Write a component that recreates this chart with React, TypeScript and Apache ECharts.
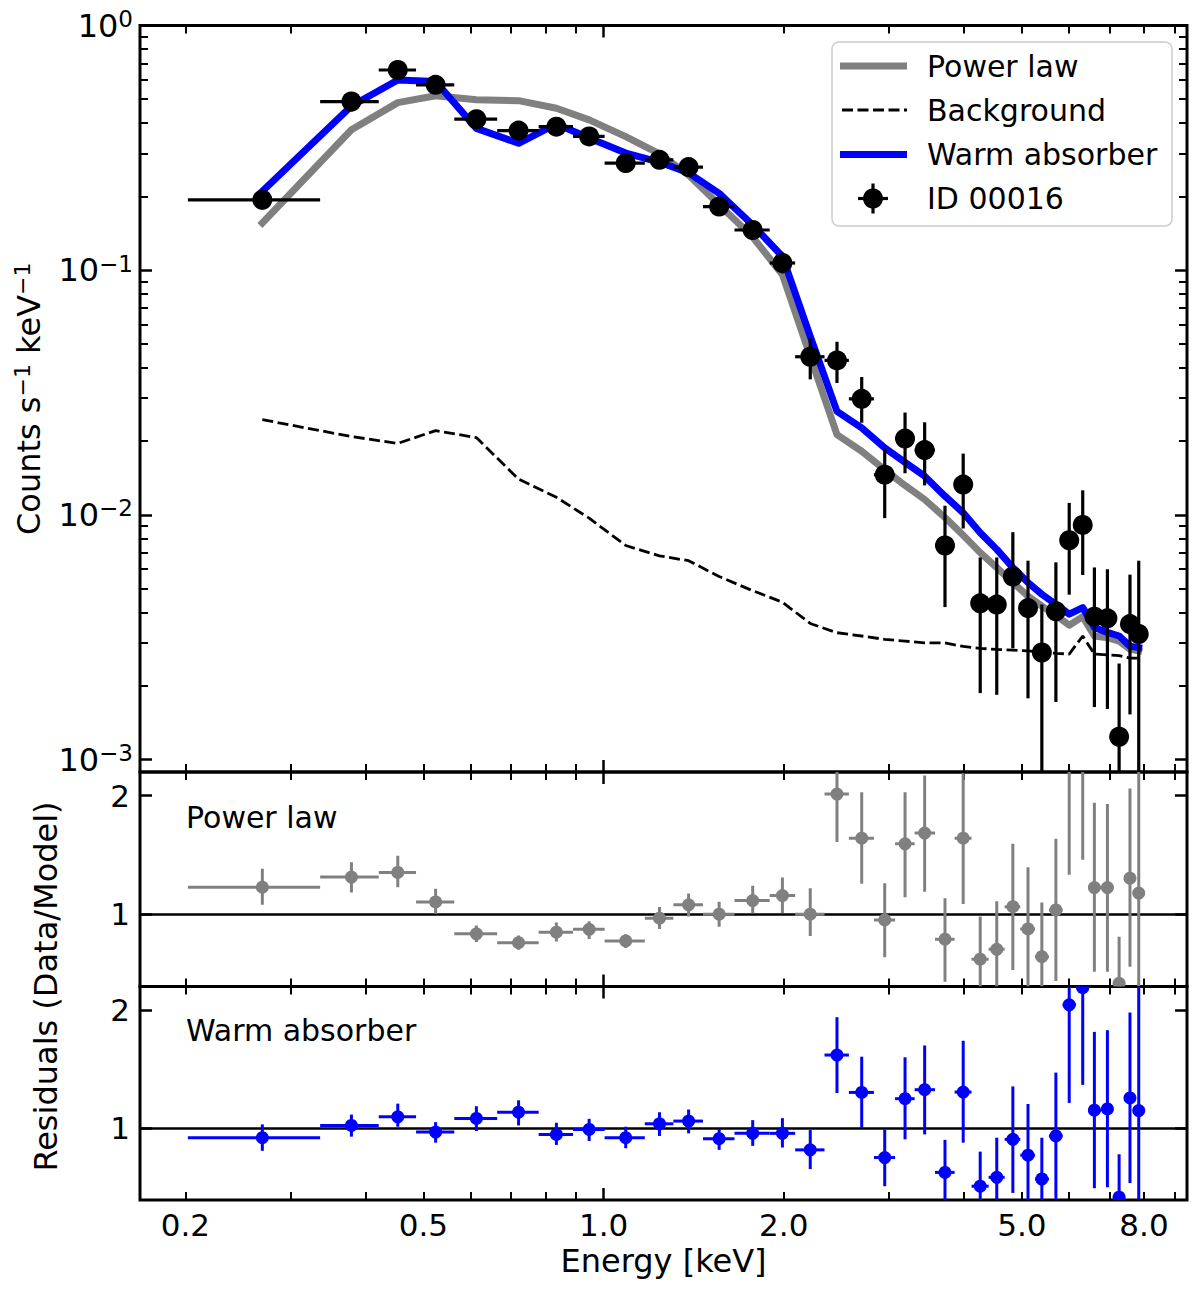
import { useEffect, useRef } from 'react';
import * as echarts from 'echarts';

// bin centres and edges [keV]
const energy = [0.269, 0.379, 0.453, 0.524, 0.613, 0.721, 0.834, 0.946, 1.089, 1.24, 1.387, 1.56, 1.775, 1.99, 2.215, 2.455, 2.7, 2.95, 3.19, 3.44, 3.72, 3.99, 4.26, 4.54, 4.83, 5.12, 5.4, 5.7, 6.0, 6.32, 6.61, 6.95, 7.27, 7.58, 7.84];
const binLo = [0.202, 0.336, 0.421, 0.486, 0.563, 0.664, 0.779, 0.889, 1.004, 1.172, 1.308, 1.466, 1.655, 1.895, 2.09, 2.34, 2.57, 2.83, 3.07, 3.31, 3.58, 3.86, 4.12, 4.4, 4.68, 4.97, 5.26, 5.55, 5.85, 6.16, 6.47, 6.78, 7.11, 7.43, 7.71];
const binHi = [0.336, 0.421, 0.486, 0.563, 0.664, 0.779, 0.889, 1.004, 1.172, 1.308, 1.466, 1.655, 1.895, 2.09, 2.34, 2.57, 2.83, 3.07, 3.31, 3.58, 3.86, 4.12, 4.4, 4.68, 4.97, 5.26, 5.55, 5.85, 6.16, 6.47, 6.78, 7.11, 7.43, 7.71, 7.97];

// ID 00016 spectrum [counts s^-1 keV^-1]
const counts = [0.194, 0.489, 0.658, 0.572, 0.414, 0.372, 0.386, 0.352, 0.274, 0.2825, 0.264, 0.182, 0.146, 0.107, 0.0443, 0.0428, 0.0298, 0.0146, 0.0205, 0.0184, 0.0075, 0.0133, 0.00435, 0.0043, 0.0056, 0.00416, 0.00274, 0.00404, 0.00788, 0.0091, 0.00384, 0.00378, 0.00124, 0.00358, 0.00326];
const countsLo = [0.177, 0.445, 0.603, 0.53, 0.381, 0.345, 0.356, 0.325, 0.251, 0.26, 0.243, 0.167, 0.134, 0.097, 0.0358, 0.0346, 0.0238, 0.0097, 0.0148, 0.0132, 0.0042, 0.0088, 0.00187, 0.00184, 0.00285, 0.00178, 0.0005, 0.00172, 0.00472, 0.00568, 0.00164, 0.00161, 0.0005, 0.00153, 0.0005];
const countsHi = [0.211, 0.535, 0.718, 0.615, 0.448, 0.401, 0.417, 0.38, 0.298, 0.305, 0.286, 0.197, 0.159, 0.118, 0.0528, 0.051, 0.0366, 0.0187, 0.0262, 0.0239, 0.0109, 0.0178, 0.0067, 0.0067, 0.0085, 0.0065, 0.0043, 0.0064, 0.0112, 0.0126, 0.0061, 0.006, 0.00247, 0.0057, 0.0065];

// models
const powerLaw = [0.156, 0.375, 0.484, 0.516, 0.497, 0.493, 0.459, 0.4115, 0.3516, 0.299, 0.245, 0.185, 0.1366, 0.096, 0.0445, 0.0213, 0.0182, 0.0153, 0.0132, 0.01156, 0.00975, 0.00825, 0.00701, 0.00609, 0.00529, 0.00466, 0.00424, 0.00389, 0.00354, 0.00384, 0.0032, 0.00315, 0.00305, 0.00283, 0.00278];
const background = [0.0245, 0.0209, 0.0196, 0.0221, 0.0207, 0.014, 0.0118, 0.0097, 0.0075, 0.0068, 0.0065, 0.0056, 0.0049, 0.0044, 0.0036, 0.0033, 0.0032, 0.0031, 0.00305, 0.003, 0.003, 0.0029, 0.00285, 0.00282, 0.0028, 0.00278, 0.00275, 0.00272, 0.0027, 0.0032, 0.0027, 0.00268, 0.00266, 0.0026, 0.0026];
const warmAbs = [0.21, 0.469, 0.599, 0.59, 0.38, 0.33, 0.396, 0.347, 0.301, 0.2765, 0.25, 0.206, 0.153, 0.1138, 0.0537, 0.0265, 0.0227, 0.0188, 0.0164, 0.0144, 0.01193, 0.0102, 0.00846, 0.00723, 0.00609, 0.00529, 0.00474, 0.00431, 0.00393, 0.00418, 0.00347, 0.00331, 0.0032, 0.00291, 0.00287];

// residuals (data / model)
const resPL = [1.228, 1.313, 1.352, 1.104, 0.835, 0.76, 0.848, 0.873, 0.774, 0.966, 1.079, 1.0, 1.115, 1.157, 1.0, 2.014, 1.642, 0.952, 1.594, 1.685, 0.789, 1.642, 0.62, 0.704, 1.064, 0.876, 0.642, 1.036, 2.23, 2.37, 1.225, 1.225, 0.417, 1.304, 1.178];
const resPLLo = [1.079, 1.183, 1.228, 1.003, 0.765, 0.7, 0.77, 0.79, 0.715, 0.875, 0.98, 0.895, 1.008, 1.01, 0.817, 1.61, 1.256, 0.636, 1.144, 1.19, 0.43, 1.087, 0.26, 0.3, 0.53, 0.35, 0.19, 0.436, 1.332, 1.459, 0.515, 0.515, 0.02, 0.557, 0.0];
const resPLHi = [1.383, 1.439, 1.493, 1.214, 0.905, 0.82, 0.93, 0.94, 0.83, 1.06, 1.175, 1.105, 1.24, 1.31, 1.22, 2.4, 2.03, 1.262, 2.03, 2.17, 1.135, 2.19, 0.98, 1.11, 1.594, 1.397, 1.098, 1.636, 3.1, 3.3, 1.94, 1.93, 0.81, 2.06, 2.6];
const resWA = [0.918, 1.022, 1.095, 0.966, 1.081, 1.134, 0.946, 0.988, 0.918, 1.036, 1.059, 0.91, 0.955, 0.955, 0.815, 1.619, 1.302, 0.75, 1.249, 1.325, 0.624, 1.305, 0.507, 0.582, 0.904, 0.77, 0.568, 0.933, 2.045, 2.19, 1.151, 1.162, 0.414, 1.255, 1.148];
const resWALo = [0.807, 0.927, 1.011, 0.876, 0.975, 1.022, 0.857, 0.89, 0.829, 0.933, 0.955, 0.815, 0.849, 0.835, 0.652, 1.297, 1.0, 0.507, 0.904, 0.946, 0.35, 0.876, 0.21, 0.25, 0.45, 0.34, 0.22, 0.4, 1.213, 1.366, 0.49, 0.498, 0.05, 0.534, 0.0];
const resWAHi = [1.031, 1.114, 1.207, 1.05, 1.185, 1.235, 1.045, 1.078, 1.011, 1.134, 1.157, 0.994, 1.067, 1.084, 0.983, 1.94, 1.605, 0.988, 1.6, 1.7, 0.9, 1.74, 0.8, 0.918, 1.353, 1.204, 0.918, 1.47, 2.9, 3.0, 1.815, 1.83, 0.778, 1.98, 2.6];

// axes
const xMinorTicks = [0.2, 0.3, 0.4, 0.5, 0.6, 0.7, 0.8, 0.9, 2, 3, 4, 5, 6, 7, 8, 9];
const xMajorTicks = [1];
const xTickLabels = [0.2, 0.5, 1, 2, 5, 8];
const yTopMajor = [0.001, 0.01, 0.1, 1];
const yTopMinor = [0.002, 0.003, 0.004, 0.005, 0.006, 0.007, 0.008, 0.009, 0.02, 0.03, 0.04, 0.05, 0.06, 0.07, 0.08, 0.09, 0.2, 0.3, 0.4, 0.5, 0.6, 0.7, 0.8, 0.9];
const resTicks = [1, 2];

const X_MIN = 0.168;
const X_MAX = 9.44;
const Y_MIN = 0.00089;
const Y_MAX = 1;
const R_MIN = 0.39;
const R_MAX = 2.2;

const FONT = 'DejaVu Sans';
const GRAY = '#808080';
const BLUE = '#0000ff';
const BG_DASH = [11, 4.5];

const LEFT = 140;
const WIDTH = 1047;
const PANELS = [
  { top: 25.5, height: 746.5 },
  { top: 772, height: 214.5 },
  { top: 986.5, height: 213.5 },
];

function xAxisFor(gridIndex: number, position: string, ticks: number[], length: number, labels?: number[]) {
  return {
    type: 'log', logBase: 10, gridIndex, position, min: X_MIN, max: X_MAX,
    axisLine: { show: false, onZero: false },
    splitLine: { show: false },
    axisTick: { show: true, inside: true, length, customValues: ticks, lineStyle: { color: '#000', width: length > 10 ? 2.5 : 2 } },
    axisLabel: labels
      ? { show: true, customValues: labels, formatter: (v: number) => v.toFixed(1), fontSize: 31, fontFamily: FONT, color: '#000', margin: 9 }
      : { show: false },
  };
}

function supText(v: number) {
  const e = Math.round(Math.log10(v));
  return `{b|10}{s|${e < 0 ? '\u2212' + -e : e}}`;
}

function yLogFor(position: string, ticks: number[], length: number, labels?: number[]) {
  return {
    type: 'log', logBase: 10, gridIndex: 0, position, min: Y_MIN, max: Y_MAX,
    axisLine: { show: false, onZero: false },
    splitLine: { show: false },
    axisTick: { show: true, inside: true, length, customValues: ticks, lineStyle: { color: '#000', width: length > 10 ? 2.5 : 2 } },
    axisLabel: labels
      ? {
          show: true, customValues: labels, formatter: supText, margin: 7,
          rich: {
            b: { fontSize: 32, fontFamily: FONT, color: '#000', lineHeight: 36 },
            s: { fontSize: 23, fontFamily: FONT, color: '#000', lineHeight: 14, verticalAlign: 'top' },
          },
        }
      : { show: false },
  };
}

function yResFor(gridIndex: number, position: string, labels: boolean) {
  return {
    type: 'value', gridIndex, position, min: R_MIN, max: R_MAX,
    axisLine: { show: false, onZero: false },
    splitLine: { show: false },
    axisTick: { show: true, inside: true, length: 12, customValues: resTicks, lineStyle: { color: '#000', width: 2.5 } },
    axisLabel: labels
      ? { show: true, customValues: resTicks, formatter: (v: number) => String(v), fontSize: 31, fontFamily: FONT, color: '#000', margin: 10 }
      : { show: false },
  };
}

// error bars + round marker, through the axes of the series
function errorBars(color: string, lw: number, radius: number, yMin: number, yMax: number) {
  return (_params: any, api: any) => {
    const clamp = (v: number) => Math.min(Math.max(v, yMin), yMax);
    const x = api.value(0);
    const y = api.value(1);
    const c = api.coord([x, clamp(y)]);
    const l = api.coord([api.value(2), clamp(y)]);
    const r = api.coord([api.value(3), clamp(y)]);
    const lo = api.coord([x, clamp(api.value(4))]);
    const hi = api.coord([x, clamp(api.value(5))]);
    const children: any[] = [
      { type: 'line', shape: { x1: lo[0], y1: lo[1], x2: hi[0], y2: hi[1] }, style: { stroke: color, lineWidth: lw } },
    ];
    if (y >= yMin && y <= yMax) {
      children.push({ type: 'line', shape: { x1: l[0], y1: c[1], x2: r[0], y2: c[1] }, style: { stroke: color, lineWidth: lw } });
      children.push({ type: 'circle', shape: { cx: c[0], cy: c[1], r: radius }, style: { fill: color } });
    }
    return { type: 'group', children };
  };
}

const legendRows = [
  { label: 'Power law', y: 66 },
  { label: 'Background', y: 110 },
  { label: 'Warm absorber', y: 154.5 },
  { label: 'ID 00016', y: 198.5 },
];

export default function App() {
  const chartRef = useRef<HTMLDivElement>(null);

  useEffect(() => {
    if (!chartRef.current) return;
    const chart = echarts.init(chartRef.current, null, { renderer: 'svg' });

    const xAxes: any[] = [];
    PANELS.forEach((_, g) => {
      xAxes.push(xAxisFor(g, 'bottom', xMinorTicks, 8, g === 2 ? xTickLabels : undefined));
      xAxes.push(xAxisFor(g, 'bottom', xMajorTicks, 12));
      xAxes.push(xAxisFor(g, 'top', xMinorTicks, 8));
      xAxes.push(xAxisFor(g, 'top', xMajorTicks, 12));
    });

    const textStyle = { fontSize: 30, fontFamily: FONT, fill: '#000' };

    chart.setOption({
      animation: false,
      grid: PANELS.map((p) => ({
        left: LEFT, width: WIDTH, top: p.top, height: p.height,
        show: true, borderColor: '#000', borderWidth: 3, backgroundColor: 'transparent',
      })),
      xAxis: xAxes,
      yAxis: [
        yLogFor('left', yTopMajor, 12, yTopMajor),
        yLogFor('left', yTopMinor, 8),
        yLogFor('right', yTopMajor, 12),
        yLogFor('right', yTopMinor, 8),
        yResFor(1, 'left', true),
        yResFor(1, 'right', false),
        yResFor(2, 'left', true),
        yResFor(2, 'right', false),
      ],
      series: [
        {
          name: 'Power law', type: 'line', xAxisIndex: 0, yAxisIndex: 0, showSymbol: false, silent: true, z: 2,
          data: energy.map((e, i) => [e, powerLaw[i]]),
          lineStyle: { color: GRAY, width: 7, cap: 'square', join: 'round' },
        },
        {
          name: 'Background', type: 'line', xAxisIndex: 0, yAxisIndex: 0, showSymbol: false, silent: true, z: 3,
          data: energy.map((e, i) => [e, background[i]]),
          lineStyle: { color: '#000', width: 2.8, type: BG_DASH },
        },
        {
          name: 'Warm absorber', type: 'line', xAxisIndex: 0, yAxisIndex: 0, showSymbol: false, silent: true, z: 4,
          data: energy.map((e, i) => [e, warmAbs[i]]),
          lineStyle: { color: BLUE, width: 7, cap: 'square', join: 'round' },
        },
        {
          name: 'ID 00016', type: 'custom', xAxisIndex: 0, yAxisIndex: 0, clip: true, silent: true, z: 5,
          renderItem: errorBars('#000', 3.2, 10, Y_MIN, Y_MAX),
          encode: { x: 0, y: 1 },
          data: energy.map((e, i) => [e, counts[i], binLo[i], binHi[i], countsLo[i], countsHi[i]]),
        },
        {
          name: 'Power law residuals', type: 'custom', xAxisIndex: 4, yAxisIndex: 4, clip: true, silent: true, z: 5,
          renderItem: errorBars(GRAY, 3, 6.5, R_MIN, R_MAX),
          encode: { x: 0, y: 1 },
          data: energy.map((e, i) => [e, resPL[i], binLo[i], binHi[i], resPLLo[i], resPLHi[i]]),
        },
        {
          name: 'Warm absorber residuals', type: 'custom', xAxisIndex: 8, yAxisIndex: 6, clip: true, silent: true, z: 5,
          renderItem: errorBars(BLUE, 3, 6.5, R_MIN, R_MAX),
          encode: { x: 0, y: 1 },
          data: energy.map((e, i) => [e, resWA[i], binLo[i], binHi[i], resWALo[i], resWAHi[i]]),
        },
        {
          type: 'line', xAxisIndex: 4, yAxisIndex: 4, data: [], silent: true, z: 3,
          markLine: { symbol: 'none', silent: true, label: { show: false }, lineStyle: { color: '#000', width: 2.5, type: 'solid' }, data: [{ yAxis: 1 }] },
        },
        {
          type: 'line', xAxisIndex: 8, yAxisIndex: 6, data: [], silent: true, z: 3,
          markLine: { symbol: 'none', silent: true, label: { show: false }, lineStyle: { color: '#000', width: 2.5, type: 'solid' }, data: [{ yAxis: 1 }] },
        },
      ],
      graphic: [
        // axis titles
        {
          type: 'text', x: 29, y: 398.75, rotation: Math.PI / 2, silent: true,
          style: {
            text: '{m|Counts s}{s|\u22121}{m| keV}{s|\u22121}',
            align: 'center', verticalAlign: 'middle', textAlign: 'center', textVerticalAlign: 'middle',
            rich: {
              m: { fontSize: 32, fontFamily: FONT, fill: '#000', lineHeight: 36 },
              s: { fontSize: 22, fontFamily: FONT, fill: '#000', lineHeight: 14, verticalAlign: 'top' },
            },
          },
        },
        {
          type: 'text', x: 46, y: 986.5, rotation: Math.PI / 2, silent: true,
          style: { text: 'Residuals (Data/Model)', fontSize: 32, fontFamily: FONT, fill: '#000', align: 'center', verticalAlign: 'middle', textAlign: 'center', textVerticalAlign: 'middle' },
        },
        {
          type: 'text', x: 663.5, y: 1261, silent: true,
          style: { text: 'Energy [keV]', fontSize: 32, fontFamily: FONT, fill: '#000', align: 'center', verticalAlign: 'middle', textAlign: 'center', textVerticalAlign: 'middle' },
        },
        // panel labels
        { type: 'text', x: 186, y: 817, silent: true, style: { ...textStyle, text: 'Power law', verticalAlign: 'middle', textVerticalAlign: 'middle' } },
        { type: 'text', x: 186, y: 1030, silent: true, style: { ...textStyle, text: 'Warm absorber', verticalAlign: 'middle', textVerticalAlign: 'middle' } },
        // legend
        {
          type: 'group', z: 100, silent: true,
          children: [
            { type: 'rect', shape: { x: 832, y: 42, width: 340, height: 184, r: 7 }, style: { fill: 'rgba(255,255,255,0.8)', stroke: '#cccccc', lineWidth: 1.5 } },
            { type: 'line', shape: { x1: 840, y1: 66, x2: 907, y2: 66 }, style: { stroke: GRAY, lineWidth: 7 } },
            { type: 'line', shape: { x1: 842, y1: 110, x2: 907, y2: 110 }, style: { stroke: '#000', lineWidth: 2.8, lineDash: BG_DASH } },
            { type: 'line', shape: { x1: 840, y1: 154.5, x2: 907, y2: 154.5 }, style: { stroke: BLUE, lineWidth: 7 } },
            { type: 'line', shape: { x1: 858, y1: 198.5, x2: 888, y2: 198.5 }, style: { stroke: '#000', lineWidth: 3.2 } },
            { type: 'line', shape: { x1: 873, y1: 183.5, x2: 873, y2: 213.5 }, style: { stroke: '#000', lineWidth: 3.2 } },
            { type: 'circle', shape: { cx: 873, cy: 198.5, r: 10 }, style: { fill: '#000' } },
            ...legendRows.map((r) => ({
              type: 'text', x: 927, y: r.y,
              style: { ...textStyle, text: r.label, verticalAlign: 'middle', textVerticalAlign: 'middle' },
            })),
          ],
        },
      ],
    });

    return () => chart.dispose();
  }, []);

  return <div ref={chartRef} style={{ position: 'absolute', left: 0, top: 0, width: 1200, height: 1292 }} />;
}
